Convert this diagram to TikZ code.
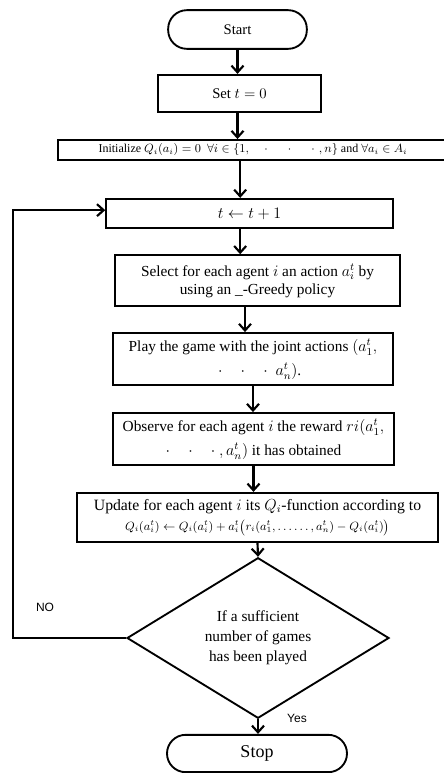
\documentclass[tikz,border=0pt]{standalone}
\usepackage{fontspec}
\setmainfont{Liberation Serif}
\setsansfont{Liberation Sans}
\usetikzlibrary{arrows.meta,shapes.geometric}
\begin{document}
\begin{tikzpicture}[x=0.75pt,y=-0.75pt,
  flow/.style={line width=1.6pt,-{Straight Barb[length=5pt,width=9pt,line width=1.6pt]}},
  stepbox/.style={draw,line width=1.4pt,inner sep=2pt,align=center,font={\fontsize{11.5}{13.5}\selectfont}},
  terminal/.style={stepbox,rounded corners=14pt},
  decision/.style={draw,diamond,line width=1.4pt,inner sep=0pt,align=center},
  tag/.style={font=\sffamily\small}]
\useasboundingbox (0,0) rectangle (443,773);
% Steps of the learning loop
\node[terminal,minimum width=104pt,minimum height=29pt,font={\fontsize{11}{13}\selectfont}] (start) at (237.5,29.5) {Start};
\node[stepbox,minimum width=122pt,minimum height=28pt,font={\fontsize{11}{13}\selectfont}] (set) at (239.5,93.5) {Set $t=0$};
\node[stepbox,minimum width=292pt,minimum height=15pt,inner sep=1pt,font={\fontsize{9}{10}\selectfont}] (init) at (253,150)
  {Initialize $Q_i(a_i)=0$ \ $\forall i\in\{1,\hspace{10pt}\cdot\hspace{13pt}\cdot\hspace{13pt}\cdot\hspace{3pt}, n\}$ and $\forall a_i\in A_i$};
\node[stepbox,minimum width=215pt,minimum height=22pt] (tstep) at (249.5,213.5) {$t\leftarrow t+1$};
\node[stepbox,minimum width=214pt,minimum height=38pt] (select) at (257.5,280.5)
  {Select for each agent $i$ an action $a_i^t$ by\\ using an \_-Greedy policy};
\node[stepbox,minimum width=210pt,minimum height=39pt,font={\fontsize{11.5}{18}\selectfont}] (play) at (253,359)
  {Play the game with the joint actions $(a_1^t,$\\ \hspace{10pt}$\cdot\hspace{11pt}\cdot\hspace{11pt}\cdot\ \ a_n^t)$.};
\node[stepbox,minimum width=211pt,minimum height=39pt,font={\fontsize{11.5}{18}\selectfont}] (observe) at (253.5,439)
  {Observe for each agent $i$ the reward $ri(a_1^t,$\\ $\cdot\hspace{11pt}\cdot\hspace{11pt}\cdot\ , a_n^t)$ it has obtained};
\node[stepbox,minimum width=271pt,minimum height=37pt,font={\fontsize{11.8}{15}\selectfont}] (update) at (257.5,517.5)
  {Update for each agent $i$ its $Q_i$-function according to\\
   {\fontsize{8.8}{10}\selectfont$Q_i(a_i^t)\leftarrow Q_i(a_i^t)+a_i^t\bigl(r_i(a_1^t,\dots\dots,a_n^t)-Q_i(a_i^t)\bigr)$}};
\node[decision,minimum width=196.5pt,minimum height=106.5pt,font={\fontsize{11.5}{15}\selectfont}] (check) at (258,638)
  {If a sufficient\\ number of games\\ has been played};
\node[terminal,minimum width=135pt,minimum height=28pt,font={\fontsize{13.5}{15}\selectfont}] (stop) at (257,753.5) {Stop};
% Branch labels
\node[tag] (no) at (45,607) {NO};
\node[tag] (yes) at (297,718) {Yes};
% Connectors
\draw[flow] (start.south) -- (start.south |- set.north);
\draw[flow] (start.south |- set.south) -- (start.south |- init.north);
\draw[flow] ([xshift=-7pt]tstep.north |- init.south) -- ([xshift=-7pt]tstep.north);
\draw[flow] ([xshift=-7pt]tstep.south) -- ([xshift=-7pt]tstep.south |- select.north);
\draw[flow] ([xshift=-6pt]play.north |- select.south) -- ([xshift=-6pt]play.north);
\draw[flow] (play.south) -- (play.south |- observe.north);
\draw[flow] (observe.south) -- (observe.south |- update.north);
\draw[flow] (update.south) -- (check.north);
\draw[flow] (check.south) -- (check.south |- stop.north);
\coordinate (back) at (13,638);
\draw[flow] (check.west) -- (back) |- ([yshift=2.5pt]tstep.west);
\end{tikzpicture}
\end{document}
